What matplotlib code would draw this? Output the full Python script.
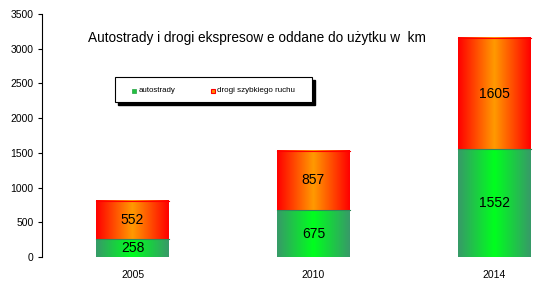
import matplotlib
matplotlib.use("Agg")
import matplotlib.pyplot as plt
import numpy as np
from matplotlib.colors import LinearSegmentedColormap
from matplotlib.patches import Rectangle

years = ["2005", "2010", "2014"]
autostrady = [258, 675, 1552]
drogi = [552, 857, 1605]

plt.rcParams['font.family'] = ['Liberation Sans', 'DejaVu Sans']

fig = plt.figure(figsize=(5.39, 2.88), dpi=100)
ax = fig.add_axes([42/539, 31/288, 543/539, 243/288])

x = np.arange(len(years))
b1 = ax.bar(x, autostrady, width=0.403, color='none')
b2 = ax.bar(x, drogi, width=0.403, bottom=autostrady, color='none')

# horizontal gradient fill: dark edges, bright centre
green = LinearSegmentedColormap.from_list('g', ['#379a68', '#00ff1e', '#379a68'])
red = LinearSegmentedColormap.from_list('r', ['#ff0000', '#ff9a00', '#ff0000'])
grad = np.linspace(0, 1, 200).reshape(1, -1)

for bars, cmap, edge in [(b1, green, '#2f8a5a'), (b2, red, '#ff0000')]:
    for p in bars:
        x0, y0, w, h = p.get_x(), p.get_y(), p.get_width(), p.get_height()
        ax.imshow(grad, cmap=cmap, aspect='auto', extent=[x0, x0 + w, y0, y0 + h],
                  interpolation='bicubic', zorder=2)
        ax.plot([x0, x0 + w], [y0 + h, y0 + h], color=edge, lw=0.8, zorder=3)

for i in range(len(years)):
    ax.text(x[i], autostrady[i] / 2, str(autostrady[i]), ha='center', va='center', fontsize=10, zorder=4)
    ax.text(x[i], autostrady[i] + drogi[i] / 2, str(drogi[i]), ha='center', va='center', fontsize=10, zorder=4)

ax.set_xlim(-0.5, 2.5)
ax.set_ylim(0, 3500)
ax.set_yticks(range(0, 3501, 500))
ax.set_xticks(x)
ax.set_xticklabels(years)
ax.tick_params(axis='x', length=0, pad=9, labelsize=7.5)
ax.tick_params(axis='y', length=3, width=0.8, pad=3, labelsize=7.5)
for s in ['top', 'right', 'bottom']:
    ax.spines[s].set_visible(False)
ax.spines['left'].set_linewidth(0.8)

fig.text(257/539, 1 - 38/288, "Autostrady i drogi ekspresow e oddane do użytku w  km",
         ha='center', va='center', fontsize=9.8)

# legend box with shadow
lx0, ly0, lw, lh = 115/539, 1 - 102/288, 197/539, 25/288
fig.patches.append(Rectangle((lx0 + 3/539, ly0 - 3/288), lw, lh, transform=fig.transFigure,
                             facecolor='black', edgecolor='black', zorder=5))
fig.patches.append(Rectangle((lx0, ly0), lw, lh, transform=fig.transFigure,
                             facecolor='white', edgecolor='black', lw=0.8, zorder=6))
fig.patches.append(Rectangle((132/539, 1 - 92.5/288), 4/539, 4/288, transform=fig.transFigure,
                             facecolor='#22c040', edgecolor='#22a040', lw=0.5, zorder=7))
fig.patches.append(Rectangle((211/539, 1 - 92.5/288), 4/539, 4/288, transform=fig.transFigure,
                             facecolor='#ff8c00', edgecolor='#ff0000', lw=0.8, zorder=7))
fig.text(139/539, 1 - 90.5/288, "autostrady", fontsize=5.7, va='center', zorder=8)
fig.text(217/539, 1 - 90.5/288, "drogi szybkiego ruchu", fontsize=5.8, va='center', zorder=8)

fig.savefig("out.png", dpi=100)
